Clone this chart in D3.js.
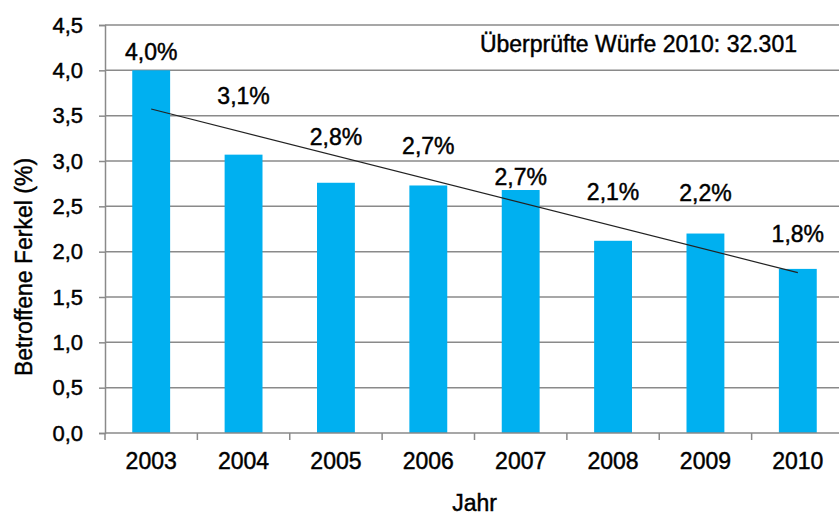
<!DOCTYPE html>
<html>
<head>
<meta charset="utf-8">
<script src="https://cdn.jsdelivr.net/npm/d3@7"></script>
<style>
  body { margin: 0; background: #fff; }
  svg { display: block; font-family: "Liberation Sans", Arial, sans-serif; }
  svg text { stroke: #000; stroke-width: 0.45px; fill: #000; }
</style>
</head>
<body>
<div id="chart"></div>
<script>
// data
const years = ['2003', '2004', '2005', '2006', '2007', '2008', '2009', '2010'];
const values = [4.0, 3.07, 2.76, 2.73, 2.68, 2.12, 2.2, 1.81];
const yTicks = [0, 0.5, 1, 1.5, 2, 2.5, 3, 3.5, 4, 4.5];
const note = 'Überprüfte Würfe 2010: 32.301';

// labels were nudged by hand in the original (px, relative to default spot)
const labelNudge = [0, -41, -28, -21, 5, -31, -23, -17];

const width = 839, height = 518;
const margin = { top: 25, right: -5, bottom: 85, left: 105 };
const grid = '#8a8a8a';

const svg = d3.select('#chart').append('svg')
    .attr('width', width)
    .attr('height', height);

const x = d3.scaleBand()
    .domain(years)
    .range([margin.left, width - margin.right])
    .paddingInner(0.59)
    .paddingOuter(0.295);

const y = d3.scaleLinear()
    .domain([0, 4.5])
    .range([height - margin.bottom, margin.top]);

const comma = v => d3.format('.1f')(v).replace('.', ',');

// gridlines
svg.append('g')
  .selectAll('line')
  .data(yTicks.filter(d => d > 0))
  .join('line')
    .attr('x1', margin.left)
    .attr('x2', width - margin.right)
    .attr('y1', d => y(d))
    .attr('y2', d => y(d))
    .attr('stroke', grid)
    .attr('stroke-width', 1.5);

// bars
svg.append('g')
  .selectAll('rect')
  .data(years)
  .join('rect')
    .attr('x', d => x(d))
    .attr('y', (d, i) => y(values[i]))
    .attr('width', x.bandwidth())
    .attr('height', (d, i) => y(0) - y(values[i]))
    .attr('fill', '#00b0f0');

// linear trend line (least squares)
const n = values.length;
const mx = d3.mean(d3.range(n));
const my = d3.mean(values);
const slope = d3.sum(values, (v, i) => (i - mx) * (v - my)) / d3.sum(d3.range(n), i => (i - mx) ** 2);
const fit = i => my + slope * (i - mx);
const cx = d => x(d) + x.bandwidth() / 2;

svg.append('line')
    .attr('x1', cx(years[0]))
    .attr('y1', y(fit(0)))
    .attr('x2', cx(years[n - 1]))
    .attr('y2', y(fit(n - 1)))
    .attr('stroke', '#222')
    .attr('stroke-width', 1.2);

// y axis
const yAxis = svg.append('g')
    .attr('transform', `translate(${margin.left},0)`)
    .call(d3.axisLeft(y).tickValues(yTicks).tickFormat(comma).tickSize(6).tickPadding(16));
yAxis.select('.domain').attr('stroke', grid).attr('stroke-width', 1.5);
yAxis.selectAll('.tick line').attr('stroke', grid).attr('stroke-width', 1.5);
yAxis.selectAll('.tick text').attr('font-size', 22).attr('fill', '#000');

// x axis
const xAxis = svg.append('g')
    .attr('transform', `translate(0,${y(0)})`)
    .call(d3.axisBottom(x).tickSize(0).tickPadding(20));
xAxis.select('.domain').remove();
xAxis.selectAll('.tick text').attr('font-size', 23).attr('fill', '#000');

svg.append('line')
    .attr('x1', margin.left)
    .attr('x2', width - margin.right)
    .attr('y1', y(0))
    .attr('y2', y(0))
    .attr('stroke', grid)
    .attr('stroke-width', 1.5);

svg.append('g')
  .selectAll('line')
  .data(d3.range(n + 1))
  .join('line')
    .attr('x1', i => margin.left + i * x.step())
    .attr('x2', i => margin.left + i * x.step())
    .attr('y1', y(0))
    .attr('y2', y(0) + 7)
    .attr('stroke', grid)
    .attr('stroke-width', 1.5);

// value labels
svg.append('g')
  .selectAll('text')
  .data(years)
  .join('text')
    .attr('x', d => cx(d))
    .attr('y', (d, i) => y(values[i]) - 10 + labelNudge[i])
    .attr('text-anchor', 'middle')
    .attr('font-size', 23)
    .text((d, i) => comma(values[i]) + '%');

// annotation
svg.append('text')
    .attr('x', 797)
    .attr('y', 52)
    .attr('text-anchor', 'end')
    .attr('font-size', 23)
    .text(note);

// axis titles
svg.append('text')
    .attr('x', (margin.left + width - margin.right) / 2)
    .attr('y', 511)
    .attr('text-anchor', 'middle')
    .attr('font-size', 23)
    .text('Jahr');

svg.append('text')
    .attr('transform', `translate(32,${(y(0) + y(4.5)) / 2 + 38}) rotate(-90)`)
    .attr('text-anchor', 'middle')
    .attr('font-size', 23)
    .text('Betroffene Ferkel (%)');
</script>
</body>
</html>
